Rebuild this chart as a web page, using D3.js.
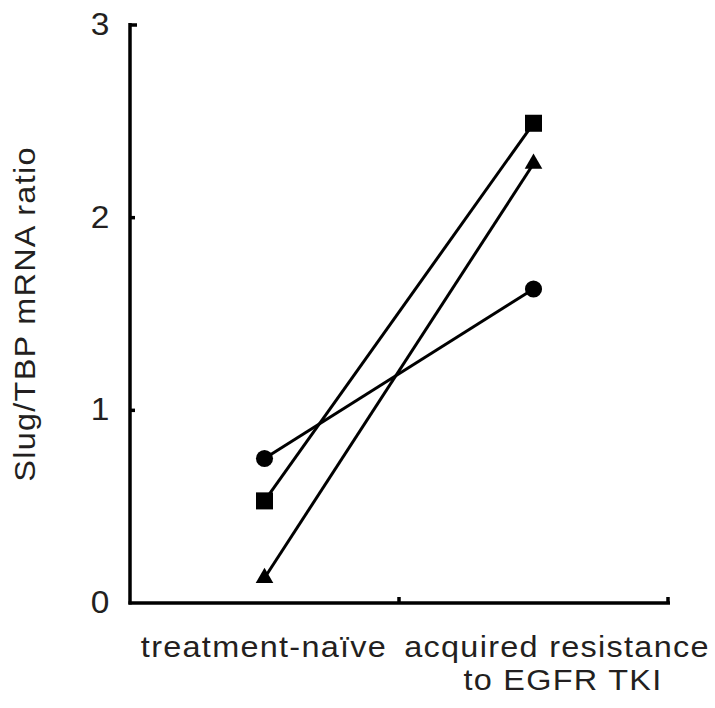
<!DOCTYPE html>
<html>
<head>
<meta charset="utf-8">
<script src="https://cdn.jsdelivr.net/npm/d3@7"></script>
<style>
  body { margin: 0; background: #fff; }
  text { font-family: "Liberation Sans", Arial, sans-serif; fill: #231f20; }
</style>
</head>
<body>
<svg id="chart" width="715" height="708"></svg>
<script>
// categories on the x axis
var categories = ["treatment-naïve", "acquired resistance"];
var categoryLines = [["treatment-naïve"], ["acquired resistance", "to EGFR TKI"]];
// one series per patient (marker shape)
var circleVals = [0.75, 1.63];
var squareVals = [0.53, 2.49];
var triangleVals = [0.13, 2.28];
var yTicks = [0, 1, 2, 3];

var series = [
  { shape: d3.symbolCircle, size: 230, values: circleVals },
  { shape: d3.symbolSquare, size: 290, values: squareVals },
  { shape: d3.symbolTriangle, size: 135, values: triangleVals }
];

var svg = d3.select("#chart");
var mLeft = 130, mRight = 668, mTop = 25, mBottom = 603;
var stretch = 1.08; // text in the reference is a bit wide

var x = d3.scaleBand().domain(categories).range([mLeft, mRight]);
var y = d3.scaleLinear().domain([0, 3]).range([mBottom, mTop]);

// y axis
svg.append("line")
  .attr("x1", mLeft).attr("x2", mLeft)
  .attr("y1", mTop - 2).attr("y2", mBottom + 1.5)
  .attr("stroke", "#000").attr("stroke-width", 3.5);
svg.selectAll(".ytick").data([3, 2, 1]).enter().append("line")
  .attr("x1", mLeft).attr("x2", function(d) { return d === 3 ? mLeft + 7 : mLeft + 5; })
  .attr("y1", function(d) { return y(d); }).attr("y2", function(d) { return y(d); })
  .attr("stroke", "#000").attr("stroke-width", 3.5);
svg.selectAll(".ylab").data(yTicks).enter().append("text")
  .attr("transform", function(d) { return "translate(100," + (y(d) + 10) + ") scale(" + stretch + ",1)"; })
  .attr("text-anchor", "middle")
  .attr("font-size", 31)
  .text(function(d) { return d; });

// x axis
svg.append("line")
  .attr("x1", mLeft - 1.5).attr("x2", mRight + 2)
  .attr("y1", mBottom).attr("y2", mBottom)
  .attr("stroke", "#000").attr("stroke-width", 3.5);
var xTickPos = [mLeft + x.bandwidth(), mRight];
svg.selectAll(".xtick").data(xTickPos).enter().append("line")
  .attr("x1", function(d) { return d; }).attr("x2", function(d) { return d; })
  .attr("y1", mBottom).attr("y2", mBottom - 6)
  .attr("stroke", "#000").attr("stroke-width", 3.5);

// category labels, centred under each band
var labelX = [[264], [557, 563]];
categories.forEach(function(c, i) {
  categoryLines[i].forEach(function(line, j) {
    svg.append("text")
      .attr("transform", "translate(" + labelX[i][j] + "," + (657 + j * 33) + ") scale(" + stretch + ",1)")
      .attr("text-anchor", "middle")
      .attr("font-size", 30)
      .attr("letter-spacing", 1.2)
      .text(line);
  });
});

// y axis title
svg.append("text")
  .attr("transform", "translate(35," + ((mTop + mBottom) / 2) + ") rotate(-90) scale(" + stretch + ",1)")
  .attr("text-anchor", "middle")
  .attr("font-size", 30)
  .attr("letter-spacing", 1.2)
  .text("Slug/TBP mRNA ratio");

// lines and markers
var line = d3.line()
  .x(function(d, i) { return x(categories[i]) + x.bandwidth() / 2; })
  .y(function(d) { return y(d); });

series.forEach(function(s) {
  svg.append("path")
    .attr("d", line(s.values))
    .attr("fill", "none")
    .attr("stroke", "#000")
    .attr("stroke-width", 3);
});
series.forEach(function(s) {
  svg.selectAll(null).data(s.values).enter().append("path")
    .attr("d", d3.symbol().type(s.shape).size(s.size))
    .attr("transform", function(d, i) {
      return "translate(" + (x(categories[i]) + x.bandwidth() / 2) + "," + y(d) + ")";
    })
    .attr("fill", "#000");
});
</script>
</body>
</html>
